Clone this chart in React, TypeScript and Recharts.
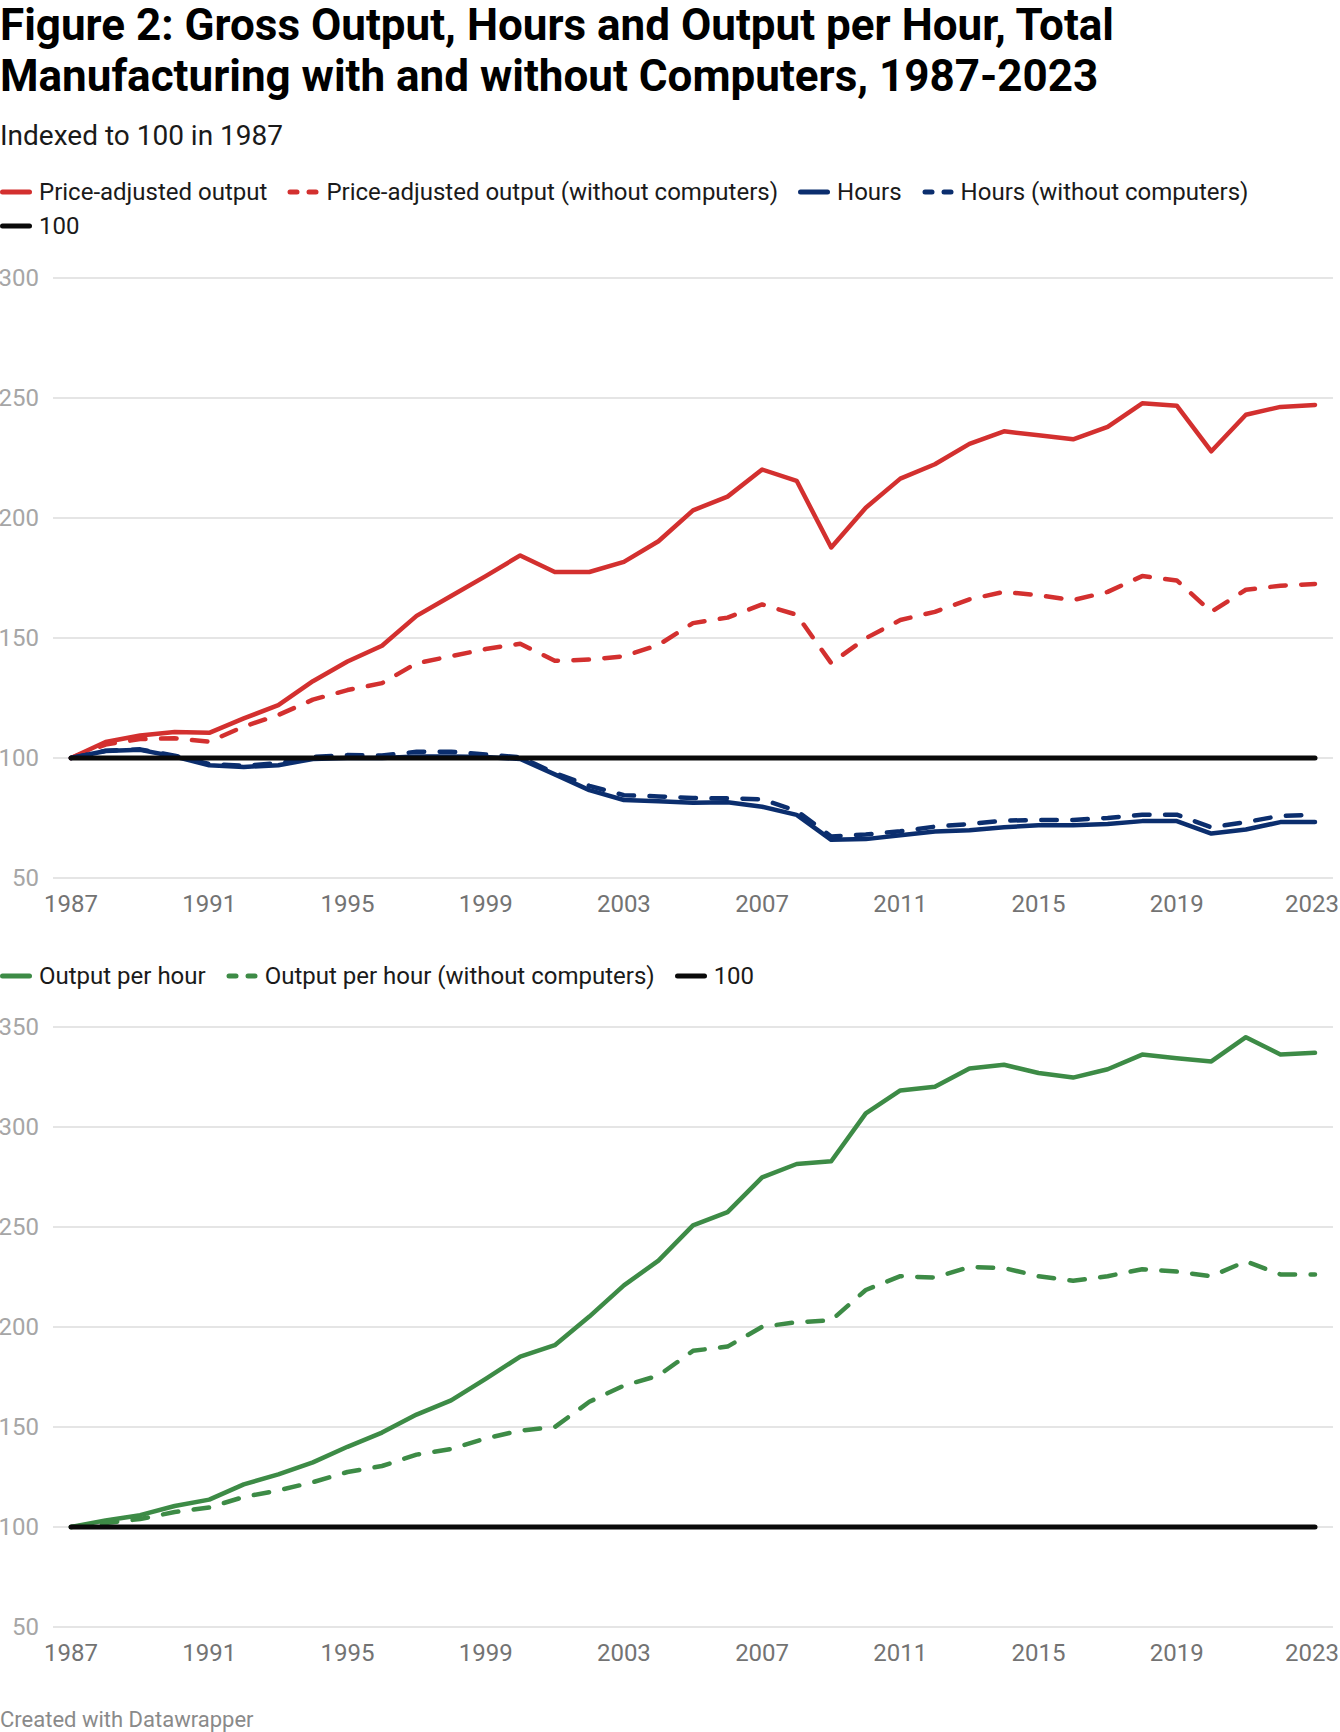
import React from "react";
import { LineChart, Line, XAxis, YAxis, CartesianGrid } from "recharts";

const years = [
  1987, 1988, 1989, 1990, 1991, 1992, 1993, 1994, 1995, 1996, 1997, 1998, 1999,
  2000, 2001, 2002, 2003, 2004, 2005, 2006, 2007, 2008, 2009, 2010, 2011, 2012,
  2013, 2014, 2015, 2016, 2017, 2018, 2019, 2020, 2021, 2022, 2023,
];

const output = [
  100, 106.7, 109.4, 110.8, 110.5, 116.5, 122, 132, 140.2, 146.8, 159.2, 167.5, 175.8,
  184.4, 177.5, 177.5, 181.7, 190.3, 203.2, 208.9, 220.2, 215.5, 187.7, 204.3, 216.4, 222.4,
  230.9, 236.1, 234.5, 232.8, 238, 247.8, 246.8, 227.8, 243, 246.3, 247.1,
];
const outputExComputers = [
  100, 105.6, 107.9, 108.2, 106.8, 113.1, 117.9, 124.3, 128.3, 131.2, 139.5, 142.4, 145.4,
  147.6, 140.5, 141, 142.4, 147.1, 156.2, 158.5, 164, 159.7, 139.5, 149.9, 157.5, 160.9,
  166.1, 169.2, 167.8, 165.8, 169.2, 175.8, 174, 160.9, 170.1, 171.8, 172.5,
];
const hours = [
  100, 102.9, 103.4, 100.6, 97, 96.3, 97, 99.6, 100, 100, 100.6, 100.6, 100.4,
  99.6, 93.2, 86.6, 82.5, 82, 81.4, 81.6, 79.7, 76.3, 65.9, 66.2, 67.8, 69.4,
  69.9, 71.1, 72, 72, 72.5, 73.7, 73.7, 68.5, 70.2, 73.3, 73.3,
];
const hoursExComputers = [
  100, 103, 103.6, 101, 97.5, 96.8, 97.8, 100.5, 101.2, 101, 102.6, 102.6, 101.5,
  100.3, 93.8, 88.4, 84.5, 84, 83.3, 83.2, 82.8, 78, 67.3, 68.1, 69.5, 71.4,
  72.5, 73.9, 74.2, 74.2, 75, 76.4, 76.4, 71.1, 73.3, 75.9, 76.3,
];
const outputPerHour = [
  100, 103.3, 105.9, 110.5, 113.7, 121.3, 126.3, 132.3, 140.1, 147.2, 156.2, 163.3, 174.1,
  185.2, 190.9, 205.2, 220.8, 233.2, 250.8, 257.4, 274.8, 281.5, 282.9, 306.8, 318.3, 320.1,
  329.3, 331.1, 327, 324.7, 328.9, 336.2, 334.4, 332.8, 344.9, 336.2, 337.1,
];
const outputPerHourExComputers = [
  100, 102, 104, 107.5, 109.8, 115, 118.3, 122.4, 127.5, 130.5, 136.2, 139, 144.3,
  148.2, 150, 162.6, 170.7, 175.7, 188.1, 190.2, 200.1, 202.4, 203.3, 218.5, 225.4, 224.7,
  230, 229.5, 225.4, 223.1, 225.4, 228.9, 227.7, 225.4, 232.8, 226.3, 226.3,
];
const baseline = 100;

const xTicks = [1987, 1991, 1995, 1999, 2003, 2007, 2011, 2015, 2019, 2023];
const topTicks = [50, 100, 150, 200, 250, 300];
const bottomTicks = [50, 100, 150, 200, 250, 300, 350];

const RED = "#d3302f";
const BLUE = "#0b2e6e";
const GREEN = "#3d8b46";
const BLACK = "#0a0a0a";
const FONT = "Roboto, 'Noto Sans', sans-serif";
const DASH = "15.5 15.5";

const rows = years.map((year, i) => ({
  year,
  output: output[i],
  outputEx: outputExComputers[i],
  hours: hours[i],
  hoursEx: hoursExComputers[i],
  oph: outputPerHour[i],
  ophEx: outputPerHourExComputers[i],
  base: baseline,
}));

// last year label is pinned to the right edge so it stays inside the frame
const XTick = (props: any) => {
  const last = props.payload.value === xTicks[xTicks.length - 1];
  return (
    <text x={last ? 1339 : props.x} y={props.y + 18} textAnchor={last ? "end" : "middle"}
      dominantBaseline="central" fontFamily={FONT} fontSize={24} fill="#737373">
      {props.payload.value}
    </text>
  );
};

const YTick = (props: any) => (
  <text x={39} y={props.y} textAnchor="end" dominantBaseline="central"
    fontFamily={FONT} fontSize={24} fill="#a6a6a6">
    {props.payload.value}
  </text>
);

const Swatch: React.FC<{ color: string; dashed?: boolean }> = ({ color, dashed }) => (
  <svg width={32} height={10} style={{ marginRight: 7, flexShrink: 0 }}>
    {dashed ? (
      <>
        <line x1={3} y1={5} x2={10} y2={5} stroke={color} strokeWidth={5} strokeLinecap="round" />
        <line x1={22} y1={5} x2={29} y2={5} stroke={color} strokeWidth={5} strokeLinecap="round" />
      </>
    ) : (
      <line x1={2.5} y1={5} x2={29.5} y2={5} stroke={color} strokeWidth={5} strokeLinecap="round" />
    )}
  </svg>
);

const LegendRow: React.FC<{ items: { label: string; color: string; dashed?: boolean }[]; top: number }> = ({ items, top }) => (
  <div style={{ position: "absolute", left: 0, top: top - 15, height: 30, display: "flex", alignItems: "center", gap: 20, fontSize: 24, color: "#1a1a1a", whiteSpace: "nowrap" }}>
    {items.map((it) => (
      <div key={it.label} style={{ display: "flex", alignItems: "center" }}>
        <Swatch color={it.color} dashed={it.dashed} />
        <span>{it.label}</span>
      </div>
    ))}
  </div>
);

const margin = { top: 20, right: 7, bottom: 0, left: 0 };
const lineProps = { type: "linear" as const, dot: false, activeDot: false, isAnimationActive: false, strokeWidth: 4.5, strokeLinecap: "round" as const, strokeLinejoin: "round" as const };

export default function App() {
  return (
    <div style={{ position: "absolute", left: 0, top: 0, width: 1340, height: 1732, background: "#fff", fontFamily: FONT, color: "#000" }}>
      <div style={{ position: "absolute", left: 0, top: 0, fontSize: 44, fontWeight: 700, lineHeight: "51px", width: 1340, whiteSpace: "nowrap" }}>
        Figure 2: Gross Output, Hours and Output per Hour, Total<br />
        Manufacturing with and without Computers, 1987-2023
      </div>
      <div style={{ position: "absolute", left: 0, top: 121, fontSize: 28, lineHeight: "30px", color: "#1a1a1a" }}>
        Indexed to 100 in 1987
      </div>

      <LegendRow top={192} items={[
        { label: "Price-adjusted output", color: RED },
        { label: "Price-adjusted output (without computers)", color: RED, dashed: true },
        { label: "Hours", color: BLUE },
        { label: "Hours (without computers)", color: BLUE, dashed: true },
      ]} />
      <LegendRow top={226} items={[{ label: "100", color: BLACK }]} />

      {/* gross output and hours */}
      <div style={{ position: "absolute", left: 0, top: 258 }}>
        <LineChart width={1340} height={670} data={rows} margin={margin}>
          <CartesianGrid vertical={false} stroke="#e5e5e5" strokeWidth={2} />
          <XAxis dataKey="year" type="number" domain={[1987, 2023]} ticks={xTicks} padding={{ left: 18, right: 18 }}
            axisLine={false} tickLine={false} height={50} tick={<XTick />} interval={0} />
          <YAxis domain={[50, 300]} ticks={topTicks} axisLine={false} tickLine={false} width={53} tick={<YTick />} interval={0} />
          <Line {...lineProps} dataKey="output" stroke={RED} />
          <Line {...lineProps} dataKey="outputEx" stroke={RED} strokeDasharray={DASH} />
          <Line {...lineProps} dataKey="hours" stroke={BLUE} />
          <Line {...lineProps} dataKey="hoursEx" stroke={BLUE} strokeDasharray={DASH} />
          <Line {...lineProps} dataKey="base" stroke={BLACK} strokeWidth={5} />
        </LineChart>
      </div>

      <LegendRow top={976} items={[
        { label: "Output per hour", color: GREEN },
        { label: "Output per hour (without computers)", color: GREEN, dashed: true },
        { label: "100", color: BLACK },
      ]} />

      {/* output per hour */}
      <div style={{ position: "absolute", left: 0, top: 1007 }}>
        <LineChart width={1340} height={670} data={rows} margin={margin}>
          <CartesianGrid vertical={false} stroke="#e5e5e5" strokeWidth={2} />
          <XAxis dataKey="year" type="number" domain={[1987, 2023]} ticks={xTicks} padding={{ left: 18, right: 18 }}
            axisLine={false} tickLine={false} height={50} tick={<XTick />} interval={0} />
          <YAxis domain={[50, 350]} ticks={bottomTicks} axisLine={false} tickLine={false} width={53} tick={<YTick />} interval={0} />
          <Line {...lineProps} dataKey="oph" stroke={GREEN} />
          <Line {...lineProps} dataKey="ophEx" stroke={GREEN} strokeDasharray={DASH} />
          <Line {...lineProps} dataKey="base" stroke={BLACK} strokeWidth={5} />
        </LineChart>
      </div>

      <div style={{ position: "absolute", left: 0, top: 1707, fontSize: 22, lineHeight: "26px", color: "#8a8a8a" }}>
        Created with Datawrapper
      </div>
    </div>
  );
}
